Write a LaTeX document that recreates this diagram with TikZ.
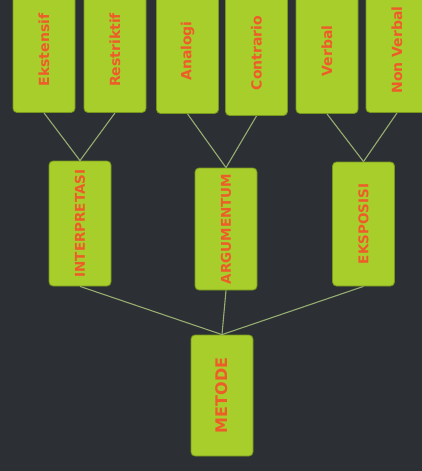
\documentclass[tikz,border=0pt]{standalone}
\usepackage{fontspec}
\usepackage{graphicx}
\newfontfamily\boxfont{DejaVu Sans}
\definecolor{cbg}{RGB}{44,47,52}
\definecolor{cbox}{RGB}{168,206,44}
\definecolor{cedge}{RGB}{118,150,30}
\definecolor{ctext}{RGB}{238,92,42}
\definecolor{clink}{RGB}{150,172,112}
\tikzset{
  leaf/.style={draw=cedge,fill=cbox,rounded corners=4pt,line width=0.8pt,
    minimum width=62pt,minimum height=125pt,inner sep=0pt,text=ctext,
    font=\boxfont\bfseries\fontsize{14}{14}\selectfont},
  branch/.style={leaf,font=\boxfont\bfseries\fontsize{13.5}{13.5}\selectfont},
  rootbox/.style={leaf,minimum height=121pt,font=\boxfont\bfseries\fontsize{16}{16}\selectfont},
  link/.style={draw=clink,line width=1.1pt}
}

\begin{document}
\begin{tikzpicture}[x=1pt,y=-1pt]
    \fill[cbg] (0,0) rectangle (422,471);
    \clip (0,0) rectangle (422,471);
    % top row
    \node[leaf] (eks) at (44,50)    {\rotatebox{90}{Ekstensif}};
    \node[leaf] (res) at (115,50)   {\rotatebox{90}{Restriktif}};
    \node[leaf] (ana) at (187.5,51) {\rotatebox{90}{Analogi}};
    \node[leaf] (con) at (256.5,53) {\rotatebox{90}{Contrario}};
    \node[leaf] (ver) at (327,51)   {\rotatebox{90}{Verbal}};
    \node[leaf] (nvb) at (397,50)   {\rotatebox{90}{Non Verbal}};
    % middle row
    \node[branch] (int) at (80,223.5)  {\rotatebox{90}{INTERPRETASI}};
    \node[branch,minimum height=122pt] (arg) at (226,229) {\rotatebox{90}{ARGUMENTUM}};
    \node[branch,minimum height=124pt] (exp) at (363.5,224) {\rotatebox{90}{EKSPOSISI}};
    % root
    \node[rootbox] (met) at (222,395.5) {\rotatebox{90}{METODE}};
    \foreach \a/\b in {eks/int,res/int,ana/arg,con/arg,ver/exp,nvb/exp,int/met,arg/met,exp/met}
      \draw[link] (\a.south) -- (\b.north);
  \end{tikzpicture}
\end{document}
